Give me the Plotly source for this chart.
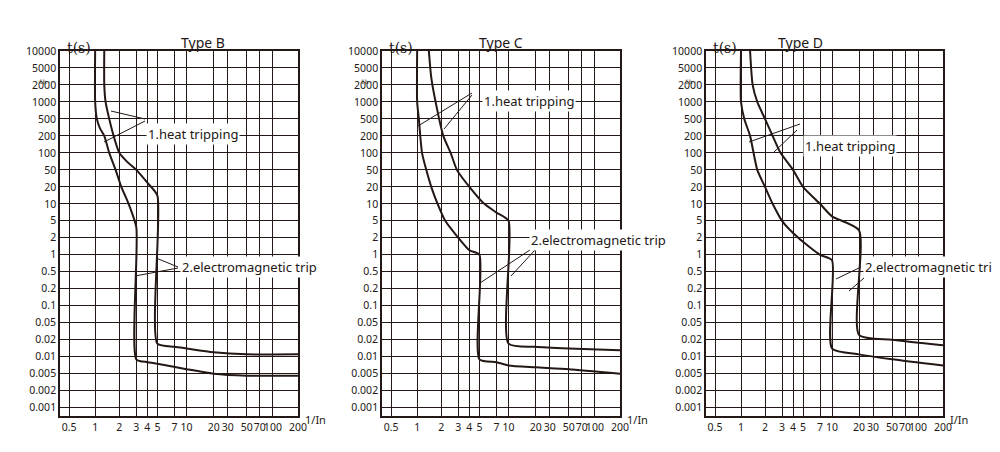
import numpy as np
import plotly.graph_objects as go

# tick values and their (irregular) grid positions on the chart
x_ticks = [0.5, 1, 2, 3, 4, 5, 7, 10, 20, 30, 50, 70, 100, 200]
x_labels = ['0.5', '1', '2', '3', '4', '5', '7', '10', '20', '30', '50', '70', '100', '200']
x_grid = [9, 35, 59, 76, 87, 97, 114, 126, 153, 167, 186, 199, 212, 237]
y_ticks = [10000, 5000, 2000, 1000, 500, 200, 100, 50, 20, 10, 5, 2, 1,
           0.5, 0.2, 0.1, 0.05, 0.02, 0.01, 0.005, 0.002, 0.001]
y_labels = ['10000', '5000', '2000', '1000', '500', '200', '100', '50', '20', '10', '5', '2', '1',
            '0.5', '0.2', '0.1', '0.05', '0.02', '0.01', '0.005', '0.002', '0.001']

# Type B
b1_i = [1, 1, 1.05, 1.15, 1.3, 1.5, 1.8, 2.1, 2.5, 3, 3, 4, 5, 10, 20, 50, 200]
b1_t = [10000, 1000, 500, 300, 200, 100, 50, 20, 10, 3.5, 0.009, 0.008, 0.0075, 0.006, 0.005, 0.0045, 0.0045]
b2_i = [1.3, 1.3, 1.35, 1.5, 1.7, 2.0, 2.4, 3, 4, 5, 5, 7, 10, 20, 50, 200]
b2_t = [10000, 2000, 1000, 500, 200, 100, 70, 50, 25, 14, 0.017, 0.015, 0.014, 0.012, 0.011, 0.011]
# Type C
c1_i = [1, 1, 1.05, 1.15, 1.3, 1.5, 1.8, 2.2, 3, 4, 5, 5, 7, 10, 20, 50, 200]
c1_t = [10000, 1000, 500, 100, 50, 20, 10, 5, 2, 1.2, 1, 0.009, 0.008, 0.007, 0.0065, 0.006, 0.005]
c2_i = [1.4, 1.5, 1.7, 2.1, 2.5, 2.9, 4, 5.5, 7, 10, 10, 20, 50, 200]
c2_t = [10000, 3000, 1000, 200, 100, 50, 20, 10, 7, 5, 0.017, 0.015, 0.014, 0.013]
# Type D
d1_i = [1, 1, 1.1, 1.3, 1.6, 2, 2.4, 3, 4.5, 7, 10, 10, 20, 50, 200]
d1_t = [10000, 1000, 500, 200, 50, 20, 10, 5, 2, 1, 0.8, 0.014, 0.011, 0.009, 0.007]
d2_i = [1.3, 1.4, 1.6, 2, 2.4, 2.9, 4, 5, 7, 10, 20, 20, 50, 200]
d2_t = [10000, 2000, 1000, 500, 200, 100, 50, 20, 10, 6, 3, 0.026, 0.02, 0.016]

panels = [
    ('Type B', [0.052, 0.290], [(b1_i, b1_t), (b2_i, b2_t)], '1/In'),
    ('Type C', [0.374, 0.612], [(c1_i, c1_t), (c2_i, c2_t)], '1/In'),
    ('Type D', [0.698, 0.935], [(d1_i, d1_t), (d2_i, d2_t)], 'I/In'),
]

ink = '#231815'
font = 'Noto Sans'


def xmap(i):
    return np.interp(np.log10(i), np.log10(x_ticks), x_grid)


def ymap(t):
    return np.interp(-np.log10(t), -np.log10(y_ticks), np.arange(len(y_ticks)))


fig = go.Figure()
for k, (title, dom, curves, xt) in enumerate(panels):
    n = '' if k == 0 else str(k + 1)
    for ci, ct in curves:
        fig.add_trace(go.Scatter(x=xmap(np.array(ci)), y=ymap(np.array(ct)), mode='lines',
                                 line=dict(color=ink, width=2, shape='spline', smoothing=0.6),
                                 xaxis='x' + n, yaxis='y' + n,
                                 showlegend=False, hoverinfo='skip'))
    fig.update_layout({
        'xaxis' + n: dict(domain=dom, range=[0, 237], tickvals=x_grid, ticktext=x_labels,
                          showgrid=True, gridcolor=ink, gridwidth=1, zeroline=False,
                          showline=True, linecolor=ink, linewidth=1.5, mirror=True,
                          ticks='', tickangle=0, automargin=False,
                          tickfont=dict(size=10.5, color=ink, family=font),
                          anchor='y' + n),
        'yaxis' + n: dict(domain=[0.097, 0.905], range=[21.5, 0], tickvals=list(range(len(y_ticks))),
                          ticktext=y_labels, showgrid=True, gridcolor=ink, gridwidth=1,
                          zeroline=False, showline=True, linecolor=ink, linewidth=1.5, mirror=True,
                          ticks='', automargin=False,
                          tickfont=dict(size=10.5, color=ink, family=font),
                          anchor='x' + n),
    })
    cx = (dom[0] + dom[1]) / 2
    fig.add_annotation(text=title, x=cx, y=1 - 23 / 452, xref='paper', yref='paper', showarrow=False,
                       font=dict(size=14, color=ink, family=font))
    fig.add_annotation(text='t(s)', x=dom[0] + 0.005, y=1 - 30 / 452, xref='paper', yref='paper',
                       xanchor='left', showarrow=False,
                       font=dict(size=14, color=ink, family='DejaVu Serif'))
    fig.add_annotation(text=xt, x=dom[1] + 0.005, y=1 - 421 / 452, xref='paper', yref='paper',
                       xanchor='left', showarrow=False, font=dict(size=11, color=ink, family=font))
    fig.add_annotation(text='1h····', x=dom[0] - 0.004, y=1 - 68 / 452, xref='paper', yref='paper',
                       xanchor='right', showarrow=False,
                       font=dict(size=6, color=ink, family='DejaVu Serif'))

# callout texts and leader lines, in pixel coordinates of the 1000x452 picture
callouts = [
    ('1.heat tripping', 138, 115, [(137, 111, 103, 103), (137, 113, 96, 134)]),
    ('2.electromagnetic trip', 172, 259, [(170, 259, 148, 250), (170, 260, 127, 268)]),
    ('1.heat tripping', 474, 82, [(464, 85, 410, 118), (464, 87, 436, 121)]),
    ('2.electromagnetic trip', 521, 232, [(525, 240, 472, 275), (527, 242, 503, 268)]),
    ('1.heat tripping', 795, 127, [(792, 116, 741, 134), (789, 122, 766, 144)]),
    ('2.electromagnetic trip', 855, 259, [(853, 259, 828, 271), (856, 270, 841, 283)]),
]
for txt, tx, ty, leads in callouts:
    fig.add_annotation(text=txt, x=tx / 1000, y=1 - ty / 452, xref='paper', yref='paper',
                       xanchor='left', showarrow=False, bgcolor='white',
                       font=dict(size=13, color=ink, family=font))
    for x0, y0, x1, y1 in leads:
        fig.add_shape(type='line', xref='paper', yref='paper', x0=x0 / 1000, y0=1 - y0 / 452,
                      x1=x1 / 1000, y1=1 - y1 / 452, line=dict(color=ink, width=1))

fig.update_layout(width=1000, height=452, margin=dict(l=0, r=0, t=0, b=0),
                  plot_bgcolor='white', paper_bgcolor='white')
fig.write_html('out.html')
